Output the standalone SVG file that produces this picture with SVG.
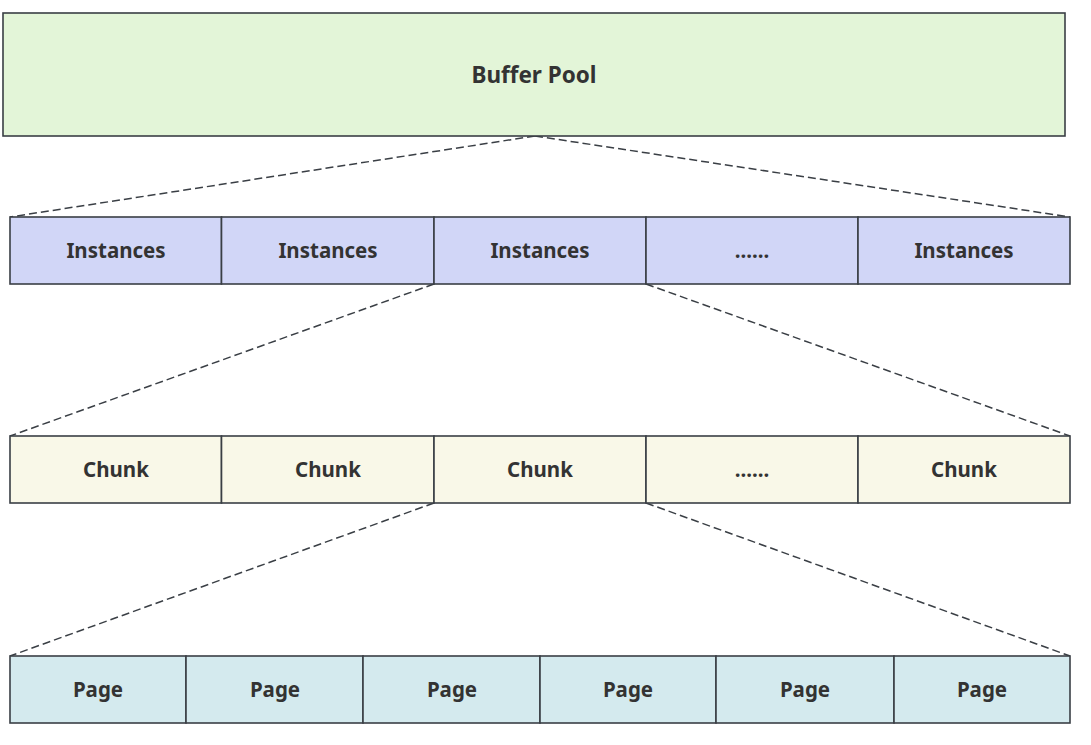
<svg xmlns="http://www.w3.org/2000/svg" width="1091" height="745" viewBox="0 0 1091 745">
<style>
rect{stroke:#3a3f45;stroke-width:1.6}
.bp{fill:#e3f5d8}
.ins{fill:#d1d6f7}
.ch{fill:#f9f8e8}
.pg{fill:#d4eaee}
text{font-family:"Noto Sans","Open Sans",sans-serif;font-weight:bold;font-size:20.5px;fill:#333;text-anchor:middle;dominant-baseline:central}
.big{font-size:22.5px}
.con line{stroke:#3a3f45;stroke-width:1.5;stroke-dasharray:8 4;fill:none}
</style>
<rect width="1091" height="745" fill="#fff" style="stroke:none"/>
<g id="connectors" class="con">
<line x1="535" y1="136" x2="10" y2="217"/>
<line x1="535" y1="136" x2="1070" y2="217"/>
<line x1="434" y1="284" x2="10" y2="436"/>
<line x1="646" y1="284" x2="1070" y2="436"/>
<line x1="434" y1="503" x2="10" y2="656"/>
<line x1="646" y1="503" x2="1070" y2="656"/>
</g>
<g id="buffer-pool"><rect class="bp" x="3" y="13" width="1062" height="123"/><text class="big" x="534" y="74">Buffer Pool</text></g>
<g id="instance-1"><rect class="ins" x="10" y="217" width="211.5" height="67"/><text x="116" y="250">Instances</text></g>
<g id="instance-2"><rect class="ins" x="221.5" y="217" width="212.5" height="67"/><text x="328" y="250">Instances</text></g>
<g id="instance-3"><rect class="ins" x="434" y="217" width="212" height="67"/><text x="540" y="250">Instances</text></g>
<g id="instance-4"><rect class="ins" x="646" y="217" width="212" height="67"/><text x="752" y="250">......</text></g>
<g id="instance-5"><rect class="ins" x="858" y="217" width="212" height="67"/><text x="964" y="250">Instances</text></g>
<g id="chunk-1"><rect class="ch" x="10" y="436" width="211.5" height="67"/><text x="116" y="469">Chunk</text></g>
<g id="chunk-2"><rect class="ch" x="221.5" y="436" width="212.5" height="67"/><text x="328" y="469">Chunk</text></g>
<g id="chunk-3"><rect class="ch" x="434" y="436" width="212" height="67"/><text x="540" y="469">Chunk</text></g>
<g id="chunk-4"><rect class="ch" x="646" y="436" width="212" height="67"/><text x="752" y="469">......</text></g>
<g id="chunk-5"><rect class="ch" x="858" y="436" width="212" height="67"/><text x="964" y="469">Chunk</text></g>
<g id="page-1"><rect class="pg" x="10" y="656" width="176" height="67"/><text x="98" y="689">Page</text></g>
<g id="page-2"><rect class="pg" x="186" y="656" width="177" height="67"/><text x="275" y="689">Page</text></g>
<g id="page-3"><rect class="pg" x="363" y="656" width="177" height="67"/><text x="452" y="689">Page</text></g>
<g id="page-4"><rect class="pg" x="540" y="656" width="176" height="67"/><text x="628" y="689">Page</text></g>
<g id="page-5"><rect class="pg" x="716" y="656" width="178" height="67"/><text x="805" y="689">Page</text></g>
<g id="page-6"><rect class="pg" x="894" y="656" width="176" height="67"/><text x="982" y="689">Page</text></g>
</svg>
